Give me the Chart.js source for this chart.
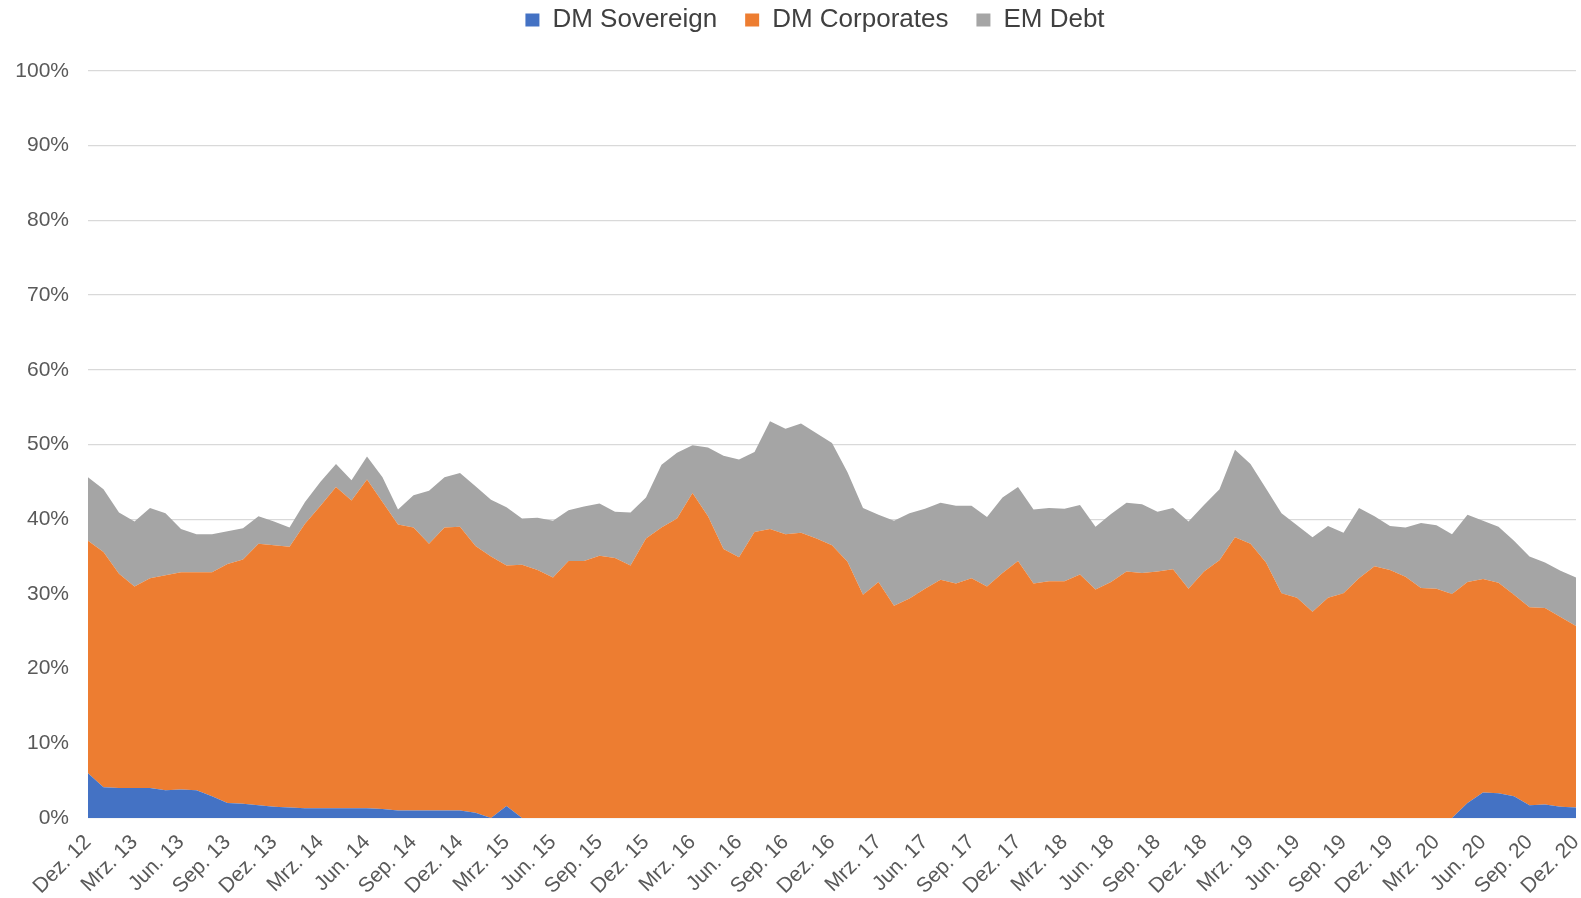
<!DOCTYPE html>
<html>
<head>
<meta charset="utf-8">
<script src="https://cdn.jsdelivr.net/npm/chart.js@4.4.1/dist/chart.umd.min.js"></script>
<style>
  html, body { margin: 0; padding: 0; background: #fff; }
  #wrap { width: 1581px; height: 898px; }
</style>
</head>
<body>
<div id="wrap"><canvas id="myChart"></canvas></div>
<script>
// months Dez. 12 .. Dez. 20
const monthNames = ['Jan.', 'Feb.', 'Mrz.', 'Apr.', 'Mai', 'Jun.', 'Jul.', 'Aug.', 'Sep.', 'Okt.', 'Nov.', 'Dez.'];
const labels = [];
for (let n = 0; n < 97; n++) {
  const m = (11 + n) % 12;
  const y = 12 + Math.floor((11 + n) / 12);
  labels.push(monthNames[m] + ' ' + y);
}

const dmSovereign = [
  6.0, 4.1, 4.0, 4.0, 4.0, 3.7, 3.8, 3.7, 2.9, 2.0, 1.9, 1.7, 1.5,
  1.4, 1.3, 1.3, 1.3, 1.3, 1.3, 1.2, 1.0, 1.0, 1.0, 1.0, 1.0, 0.7,
  0, 1.6, 0, 0, 0, 0, 0, 0, 0, 0, 0, 0, 0, 0, 0, 0, 0, 0, 0, 0, 0, 0,
  0, 0, 0, 0, 0, 0, 0, 0, 0, 0, 0, 0, 0, 0, 0, 0, 0, 0, 0, 0, 0, 0,
  0, 0, 0, 0, 0, 0, 0, 0, 0, 0, 0, 0, 0, 0, 0, 0, 0, 0, 0,
  2.0, 3.4, 3.3, 2.9, 1.7, 1.8, 1.5, 1.4
];

const dmCorporates = [
  31.1, 31.5, 28.7, 27.0, 28.1, 28.8, 29.1, 29.2, 30.0, 32.0, 32.7, 35.0, 35.0,
  34.9, 38.1, 40.5, 43.0, 41.2, 44.0, 41.1, 38.3, 37.9, 35.7, 37.9, 38.0, 35.7,
  35.0, 32.2, 33.9, 33.2, 32.2, 34.4, 34.4, 35.1, 34.8, 33.8, 37.4, 38.9, 40.1,
  43.5, 40.4, 36.0, 34.9, 38.3, 38.7, 38.0, 38.2, 37.4, 36.5, 34.3, 29.9, 31.6,
  28.4, 29.4, 30.7, 31.9, 31.4, 32.1, 31.0, 32.8, 34.4, 31.4, 31.7, 31.7, 32.6,
  30.6, 31.6, 33.0, 32.8, 33.0, 33.3, 30.7, 33.0, 34.5, 37.6, 36.7, 34.2, 30.1,
  29.5, 27.6, 29.5, 30.1, 32.1, 33.7, 33.2, 32.3, 30.8, 30.7, 30.0, 29.6, 28.6,
  28.2, 27.0, 26.5, 26.3, 25.4, 24.3
];

const emDebt = [
  8.5, 8.4, 8.2, 8.7, 9.4, 8.3, 5.8, 5.1, 5.1, 4.4, 4.2, 3.7, 3.2,
  2.6, 2.9, 3.2, 3.1, 2.7, 3.1, 3.3, 2.0, 4.3, 7.1, 6.7, 7.2, 8.0,
  7.6, 7.8, 6.2, 7.0, 7.6, 6.8, 7.3, 7.0, 6.2, 7.1, 5.5, 8.4, 8.8,
  6.4, 9.2, 12.5, 13.1, 10.7, 14.4, 14.1, 14.6, 14.1, 13.7, 12.0, 11.6, 9.0,
  11.4, 11.4, 10.7, 10.3, 10.4, 9.7, 9.3, 10.1, 9.9, 9.9, 9.8, 9.7, 9.3,
  8.4, 9.1, 9.2, 9.2, 8.0, 8.2, 9.0, 8.9, 9.5, 11.7, 10.7, 9.9, 10.7,
  9.7, 10.0, 9.6, 8.1, 9.4, 6.7, 5.9, 6.6, 8.7, 8.5, 8.0, 9.0, 7.8,
  7.5, 7.2, 6.8, 6.1, 6.2, 6.5
];

const yTicks = [0, 10, 20, 30, 40, 50, 60, 70, 80, 90, 100];

const data = {
  labels: labels,
  datasets: [{
    label: 'DM Sovereign',
    data: dmSovereign,
    backgroundColor: '#4472C4',
    borderColor: '#4472C4',
    borderWidth: 0,
    fill: 'origin'
  }, {
    label: 'DM Corporates',
    data: dmCorporates,
    backgroundColor: '#ED7D31',
    borderColor: '#ED7D31',
    borderWidth: 0,
    fill: '-1'
  }, {
    label: 'EM Debt',
    data: emDebt,
    backgroundColor: '#A5A5A5',
    borderColor: '#A5A5A5',
    borderWidth: 0,
    fill: '-1'
  }]
};

// fixed legend height so the plot starts where the reference does,
// and nudge the legend a bit to the right
const legendTweak = {
  id: 'legendTweak',
  beforeInit(chart) {
    const legend = chart.legend;
    const fit = legend.fit;
    legend.fit = function() {
      fit.call(this);
      this.height = 92;
    };
    const draw = legend.draw;
    legend.draw = function() {
      const ctx = this.ctx;
      ctx.save();
      ctx.translate(27, 0);
      draw.call(this);
      ctx.restore();
    };
  }
};

const config = {
  type: 'line',
  data: data,
  options: {
    responsive: true,
    maintainAspectRatio: false,
    animation: false,
    layout: { padding: { top: -21, right: 5, left: 0, bottom: 0 } },
    elements: { point: { radius: 0 }, line: { tension: 0 } },
    plugins: {
      tooltip: { enabled: false },
      legend: {
        position: 'top',
        labels: {
          boxWidth: 14,
          boxHeight: 13,
          padding: 28,
          color: '#404040',
          font: { family: 'Liberation Sans, Arial, sans-serif', size: 26 }
        }
      }
    },
    scales: {
      x: {
        stacked: true,
        offset: false,
        grid: { display: false },
        border: { display: false },
        ticks: {
          autoSkip: false,
          minRotation: 45,
          maxRotation: 45,
          padding: 4,
          color: '#595959',
          font: { family: 'Liberation Sans, Arial, sans-serif', size: 21 },
          callback: function(v, i) { return i % 3 === 0 ? labels[i] : ''; }
        },
        afterFit: function(scale) {
          scale.height = 80;
          scale.paddingLeft = 0;
          scale.paddingRight = 0;
        }
      },
      y: {
        stacked: true,
        min: 0,
        max: 100,
        afterBuildTicks: function(scale) { scale.ticks = yTicks.map(v => ({ value: v })); },
        grid: { color: '#D9D9D9', lineWidth: 1.3, drawTicks: false },
        border: { display: false },
        ticks: {
          padding: 19,
          color: '#595959',
          font: { family: 'Liberation Sans, Arial, sans-serif', size: 21 },
          callback: function(v) { return v + '%'; }
        },
        afterFit: function(scale) { scale.width = 88; }
      }
    }
  },
  plugins: [legendTweak]
};

const myChart = new Chart(document.getElementById('myChart'), config);
</script>
</body>
</html>
